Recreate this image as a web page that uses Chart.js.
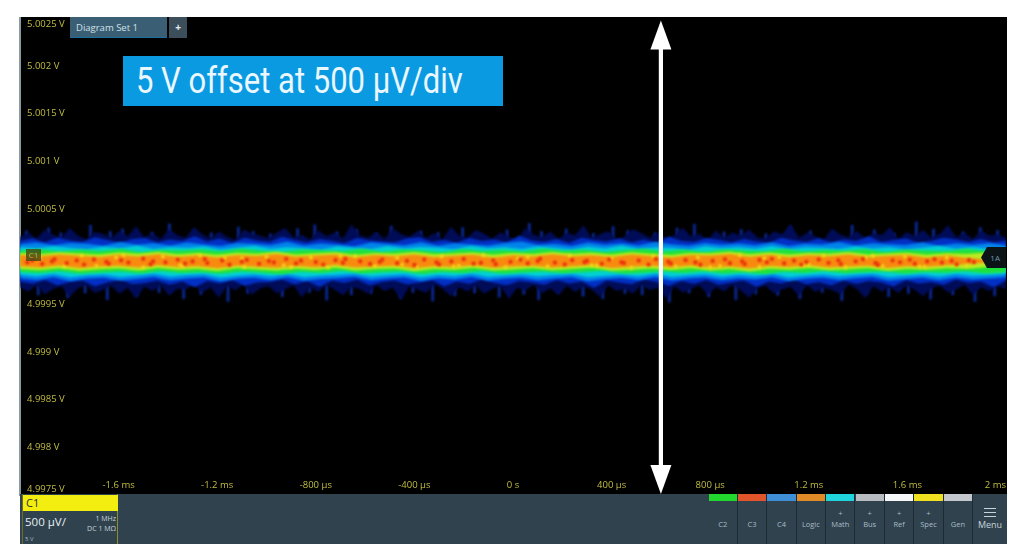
<!DOCTYPE html>
<html><head><meta charset="utf-8">
<script src="https://cdn.jsdelivr.net/npm/chart.js@4"></script>
<style>
html,body{margin:0;padding:0;background:#fff;overflow:hidden}
#wrap{position:relative;width:1024px;height:560px;filter:blur(0.6px);font-family:"Open Sans",sans-serif}
#scope{position:absolute;left:20px;top:17px;width:987px;height:477px;background:#000}
canvas{position:absolute;left:0;top:0}
.abs{position:absolute;white-space:nowrap}
#title{left:123px;top:56px;width:380px;height:50px;background:#0a9ae2;color:#eaf7ff;font:36px/50px Roboto,sans-serif;padding-left:13px;box-sizing:border-box}
#tt{display:inline-block;transform:scaleX(.861);transform-origin:0 50%}
#tab{left:70px;top:17px;width:97px;height:21px;background:#3a5f75;border-bottom:1px solid #1b6ea0;box-sizing:border-box;color:#d3e0e8;font-size:9.5px;line-height:21px;padding-left:6px}
#plus{left:169px;top:17px;width:18px;height:21px;background:#3c4e59;color:#e8eef2;font-size:10px;line-height:21px;text-align:center;font-weight:700}
#panel{left:20px;top:494px;width:987px;height:50px;background:#2f424e}
#c1{left:22px;top:494px;width:96px;height:50px;border-left:1.5px solid #6a6f2a;border-right:1.5px solid #8a8f2a;box-sizing:border-box}
#c1h{left:23px;top:495px;width:95px;height:16px;background:#f4ee10;color:#27323a;font-size:11px;line-height:16px;padding-left:3px;box-sizing:border-box}
.tile{position:absolute;top:494px;height:50px;background:#2f424e;color:#a9bcc7;font-size:7.5px;text-align:center;border-right:1px solid #1c2a33;box-sizing:border-box}
.tile i{display:block;height:7px}
.tile b{display:block;font-weight:400;height:12px;line-height:12px;margin-top:6px}
.tile span{display:block;line-height:10px}
#mk1{left:26px;top:249px;width:15px;height:12px;background:rgba(70,70,20,.8);color:#bdb84a;font-size:8px;line-height:12px;text-align:center}
#mk2{left:981px;top:247px;width:25px;height:21px;background:#0c1418;clip-path:polygon(0 50%,24% 0,100% 0,100% 100%,24% 100%);color:#6f9aa8;font-size:8px;line-height:21px;text-align:right;padding-right:6px;box-sizing:border-box}
</style></head><body>
<div id="wrap">
<div id="scope"></div>
<canvas id="c" width="1024" height="560"></canvas>
<div class="abs" id="title"><span id="tt">5 V offset at 500 µV/div</span></div>
<div class="abs" id="tab">Diagram Set 1</div>
<div class="abs" id="plus">+</div>
<div class="abs" id="mk1">C1</div>
<div class="abs" id="mk2">1A</div>
<div class="abs" id="panel"></div>
<div class="abs" id="c1"></div>
<div class="abs" id="c1h">C1</div>
<div class="abs" style="left:25px;top:514px;color:#e8eef2;font-size:11.5px;line-height:16px">500 µV/</div>
<div class="abs" style="left:70px;width:46px;top:514px;color:#c8d4db;font-size:7px;line-height:10px;text-align:right;white-space:normal">1 MHz<br>DC 1 MΩ</div>
<div class="abs" style="left:25px;top:535px;color:#a9bcc7;font-size:6px;line-height:8px">5 V</div>
<div id="tiles"></div>
</div>
<script>
// Axes (x in ms, y in volts)
const xMin=-2, xMax=2, yMin=4.9975, yMax=5.0025;
const xTickValues=[-2,-1.6,-1.2,-0.8,-0.4,0,0.4,0.8,1.2,1.6,2];
const xTickLabels=['','-1.6 ms','-1.2 ms','-800 µs','-400 µs','0 s','400 µs','800 µs','1.2 ms','1.6 ms','2 ms'];
const yTickValues=[4.9975,4.998,4.9985,4.999,4.9995,5,5.0005,5.001,5.0015,5.002,5.0025];
const yTickLabels=[['4.9975 V',''],'4.998 V','4.9985 V','4.999 V','4.9995 V','','5.0005 V','5.001 V','5.0015 V','5.002 V',['','5.0025 V']];
const arrowX=0.6;

// Persistence band boundaries, µV relative to 5 V
const band0Top=[210,250,190,280,230,200,300,220,180,260,
240,195,270,215,320,205,245,185,290,225,
200,310,235,190,265,210,175,285,240,220,
195,255,300,205,230,180,275,215,250,190,
340,225,200,260,185,295,235,210,270,195,
245,180,315,220,200,280,240,190,255,210,
175,300,230,205,265,185,250,225,330,195,
235,270,180,215,290,245,200,260,190,225,
305,210,240,175,275,195,255,220,285,205,
190,265,235,345,200,250,215,180,295,230,
205,270,190,245,225,310,185,260,215,280,
195,240,330,205,250,185,275,220,235,200];
const band0Bot=[-320,-365,-300,-395,-340,-310,-420,-330,-295,-380,
-350,-305,-390,-325,-440,-315,-360,-300,-410,-335,
-345,-295,-375,-320,-430,-305,-355,-290,-400,-330,
-310,-385,-345,-300,-425,-320,-370,-295,-350,-405,
-315,-340,-390,-300,-360,-325,-455,-310,-345,-380,
-295,-335,-415,-320,-365,-300,-390,-340,-310,-440,
-325,-355,-295,-385,-330,-405,-305,-370,-315,-345,
-420,-300,-360,-335,-390,-295,-350,-325,-445,-310,
-375,-340,-300,-400,-320,-365,-295,-355,-430,-330,
-305,-385,-345,-315,-410,-300,-370,-325,-350,-395,
-295,-340,-435,-310,-365,-320,-380,-300,-350,-415,
-330,-305,-375,-345,-295,-400,-320,-360,-310,-340];
const band1Top=[165,190,150,200,170,155,205,175,145,185,
195,150,180,165,215,160,190,145,200,170,
155,210,175,150,185,165,140,195,170,160,
150,190,205,155,175,145,195,165,180,150,
220,170,155,185,145,200,175,160,190,150,
180,145,210,165,155,195,175,150,185,160,
145,200,170,155,190,150,180,165,215,155,
175,190,145,165,200,180,155,185,150,170];
const band1Bot=[-260,-285,-245,-300,-265,-250,-310,-270,-240,-290,
-275,-250,-295,-260,-320,-255,-280,-245,-305,-270,
-265,-240,-290,-255,-315,-250,-275,-240,-300,-265,
-250,-290,-270,-245,-310,-260,-285,-240,-275,-300,
-255,-270,-295,-245,-280,-260,-325,-250,-270,-290,
-240,-265,-305,-255,-285,-245,-295,-270,-250,-315,
-260,-280,-240,-290,-265,-300,-250,-285,-255,-270,
-310,-245,-280,-265,-295,-240,-275,-260,-320,-250];
const band2Top=[130,150,120,145,135,115,155,125,140,118,
150,128,112,145,135,122,158,118,138,125,
110,148,132,120,152,115,140,128,118,145,
160,122,135,112,150,126,140,118,155,130,
115,145,125,138,120,150,112,135,128,155,
118,142,130,122,150,115,138,125,145,120];
const band2Bot=[-225,-245,-215,-255,-230,-220,-250,-235,-212,-248,
-228,-218,-258,-232,-222,-245,-215,-252,-235,-225,
-210,-248,-230,-218,-255,-226,-240,-214,-250,-232,
-220,-246,-228,-216,-258,-235,-222,-244,-212,-250,
-230,-218,-248,-225,-240,-215,-255,-232,-220,-245,
-226,-212,-252,-235,-222,-248,-218,-240,-228,-215];
const band3Top=[100,85,110,92,78,105,88,115,82,98,
90,108,76,95,112,84,100,88,74,106,
92,80,110,86,102,94,78,112,88,98,
82,108,90,76,104,86,114,80,96,90,
74,106,88,100,84,110,78,96,92,82,
108,86,100,76,94,112,84,98,80,90];
const band3Bot=[-190,-205,-182,-215,-195,-186,-210,-198,-180,-208,
-192,-184,-218,-200,-188,-206,-182,-212,-196,-190,
-178,-208,-194,-184,-216,-192,-202,-180,-210,-198,
-186,-206,-192,-182,-214,-200,-188,-204,-178,-210,
-194,-184,-208,-190,-202,-180,-216,-196,-186,-206,
-190,-178,-212,-198,-188,-208,-182,-200,-192,-180];
const band4Top=[66,78,54,72,60,82,50,70,64,76,
56,84,62,48,74,68,58,80,52,72,
66,46,78,60,70,54,84,62,74,50,
68,80,56,72,48,76,64,58,82,54,
70,62,78,50,74,66,56,80,60,72];
const band4Bot=[-160,-172,-152,-180,-165,-156,-176,-150,-170,-162,
-178,-154,-168,-184,-158,-172,-148,-176,-164,-156,
-182,-160,-170,-150,-178,-166,-154,-174,-160,-148,
-180,-168,-156,-172,-152,-176,-162,-184,-158,-170,
-150,-174,-164,-156,-180,-160,-168,-152,-176,-162];
const band5Top=[40,28,46,34,22,44,30,50,26,38,
20,42,32,52,24,36,46,18,40,30,
48,26,34,44,20,38,28,50,32,42,
24,46,30,18,40,36,52,26,44,22,
38,30,48,24,34,42,20,36,28,44];
const band5Bot=[-128,-140,-120,-148,-132,-124,-144,-118,-136,-128,
-150,-122,-134,-146,-126,-140,-116,-144,-130,-124,
-152,-128,-138,-118,-146,-134,-122,-142,-128,-116,
-148,-136,-124,-140,-120,-144,-130,-154,-126,-138,
-118,-142,-132,-122,-148,-128,-136,-120,-130,-110];
const band6Top=[18,6,24,10,-4,20,2,26,-2,14,
-8,16,8,28,0,12,22,-6,18,4,
24,-4,10,20,-10,14,2,26,6,16,
-2,22,8,-8,18,12,28,0,20,-6,
14,4,24,-2,10,18,-10,12,-14,-30];
const band6Bot=[-100,-112,-92,-118,-104,-96,-114,-90,-108,-100,
-120,-94,-106,-116,-98,-110,-88,-114,-102,-96,
-122,-100,-108,-90,-116,-104,-94,-112,-100,-88,
-118,-106,-96,-110,-92,-114,-102,-124,-98,-108,
-90,-112,-104,-94,-118,-100,-106,-90,-80,-60];
// Thin noise spikes beyond the band (x in ms, reach in µV)
const spikeUpX=[-1.97,-1.88,-1.83,-1.71,-1.63,-1.58,-1.46,-1.39,-1.29,-1.22,-1.11,-1.05,-0.98,-0.87,-0.8,-0.71,-0.63,-0.55,-0.49,-0.37,-0.3,-0.2,-0.13,-0.02,0.07,0.12,0.22,0.33,0.41,0.47,0.58,0.67,0.74,0.86,0.93,1.03,1.13,1.21,1.3,1.38,1.47,1.55,1.64,1.71,1.83,1.9,1.97];
const spikeUpY=[270,300,250,330,265,290,255,345,280,250,310,265,240,295,335,260,285,245,320,270,255,305,240,280,350,265,290,245,315,275,250,300,340,260,285,240,310,270,255,330,280,245,365,290,260,305,275];
const spikeDownX=[-1.93,-1.81,-1.74,-1.65,-1.53,-1.44,-1.34,-1.27,-1.16,-1.08,-0.94,-0.83,-0.76,-0.66,-0.58,-0.46,-0.41,-0.33,-0.24,-0.16,-0.06,0.04,0.1,0.18,0.28,0.36,0.45,0.52,0.63,0.71,0.79,0.9,0.98,1.07,1.16,1.25,1.33,1.43,1.52,1.6,1.69,1.78,1.87,1.95];
const spikeDownY=[-400,-430,-380,-450,-410,-375,-440,-395,-470,-385,-420,-375,-455,-400,-385,-435,-375,-465,-410,-380,-425,-395,-450,-375,-415,-440,-385,-400,-475,-380,-420,-450,-390,-405,-440,-375,-460,-395,-420,-385,-445,-400,-470,-410];
// Hot spots of the persistence display (x in ms, y in µV relative to 5 V)
const hotX=[-1.97,-1.95,-1.91,-1.87,-1.86,-1.81,-1.77,-1.74,-1.7,-1.65,-1.64,-1.59,-1.56,-1.5,-1.47,-1.46,-1.41,-1.36,-1.33,-1.3,-1.25,-1.24,-1.18,-1.15,-1.1,-1.08,-1.03,-0.99,-0.97,-0.92,-0.88,-0.86,-0.8,-0.77,-0.72,-0.69,-0.68,-0.62,-0.58,-0.54,-0.53,-0.47,-0.43,-0.4,-0.36,-0.31,-0.3,-0.25,-0.2,-0.16,
-0.13,-0.08,-0.07,-0.01,0.03,0.06,0.1,0.11,0.17,0.21,0.24,0.29,0.3,0.36,0.39,0.44,0.45,0.51,0.55,0.58,0.63,0.64,0.7,0.74,0.76,0.81,0.86,0.88,0.93,0.94,1.0,1.03,1.05,1.1,1.14,1.17,1.19,1.24,1.28,1.32,1.33,1.39,1.42,1.47,1.48,1.54,1.57,1.61,1.63,1.68,1.71,1.74,1.78,1.8,1.85,1.87];
const hotY=[-60,-38,-75,-48,-28,-66,-40,-82,-30,-55,-72,-38,-62,-22,-78,-50,-58,-32,-72,-50,
-28,-66,-40,-84,-52,-34,-74,-46,-60,-24,-70,-42,-56,-82,-36,-64,-26,-48,-76,-54,-30,-68,-44,-86,-30,-60,-80,-50,-26,-72,
-64,-40,-78,-54,-32,-70,-46,-22,-62,-80,-36,-56,-44,-74,-30,-58,-66,-40,-82,-26,-52,-72,-36,-60,-84,-44,-28,-68,-50,-76,-34,-58,-24,-70,-42,-82,-54,-30,-64,-38,-76,-48,-26,-66,-84,-40,-58,-32,-72,-50,-28,-62,-44,-80,-36,-56];
const warmX=[-1.92,-1.82,-1.75,-1.69,-1.61,-1.5,-1.42,-1.34,-1.27,-1.17,-1.09,-1.0,-0.93,-0.82,-0.75,-0.64,-0.56,-0.47,-0.39,-0.29,-0.22,-0.12,-0.03,0.06,0.14,0.23,0.32,0.4,0.48,0.57,0.66,0.75,0.84,0.92,1.0,1.08,1.18,1.26,1.35,1.43,1.5,1.59,1.67,1.76,1.84,-1.58,-1.35,-1.1,-0.9,-0.7,-0.45,-0.24,0.02,0.34,0.6,0.8,1.02,1.2,1.46,1.65];
const warmY=[-4,-104,12,-96,-8,-112,2,-100,14,-10,-108,0,-92,-6,-114,8,-98,-12,-106,4,-94,16,-110,-2,-100,10,-90,-14,-116,6,-102,-8,-96,18,-108,-4,-92,12,-112,-10,-98,2,-106,-6,-94,16,-88,-18,-110,8,-84,-102,-16,-92,6,-110,-14,-86,10,-104];

const bandColors=['#000c58','#0230c4','#0084ea','#00d2d2','#1ee23c','#bcea20','#f98a10'];
const bandTops=[band0Top,band1Top,band2Top,band3Top,band4Top,band5Top,band6Top];
const bandBots=[band0Bot,band1Bot,band2Bot,band3Bot,band4Bot,band5Bot,band6Bot];
const bandEnds=[2,2,2,2,2,1.92,1.92];

const volts=u=>5+u*1e-6;
const series=(vals,end)=>vals.map((u,i)=>({x:xMin+(end-xMin)*i/(vals.length-1),y:volts(u)}));
const datasets=[];
datasets.push({type:'scatter',data:hotX.map((x,i)=>({x,y:volts(hotY[i])})),pointRadius:2.1,pointBackgroundColor:'#e82a0c',pointBorderWidth:0,showLine:false,order:0});
datasets.push({type:'scatter',data:warmX.map((x,i)=>({x,y:volts(warmY[i])})),pointRadius:1.9,pointBackgroundColor:'#f2d818',pointBorderWidth:0,showLine:false,order:1});
for(let k=bandTops.length-1;k>=0;k--){
  const idx=datasets.length;
  const order=10+(bandTops.length-k)*2;
  datasets.push({data:series(bandTops[k],bandEnds[k]),borderWidth:0,pointRadius:0,tension:0,backgroundColor:bandColors[k],fill:{target:idx+1},order});
  datasets.push({data:series(bandBots[k],bandEnds[k]),borderWidth:0,pointRadius:0,tension:0,fill:false,order:order+1});
}
datasets.push({type:'bar',data:spikeUpX.map((x,i)=>({x,y:[volts(150),volts(spikeUpY[i])]})),backgroundColor:'#0a2aa0',barThickness:2,order:40});
datasets.push({type:'bar',data:spikeDownX.map((x,i)=>({x,y:[volts(spikeDownY[i]),volts(-280)]})),backgroundColor:'#0a2aa0',barThickness:2,order:41});

const softPlugin={id:'soft',
  beforeDatasetsDraw(ch){ch.ctx.save();ch.ctx.filter='blur(1.1px)'},
  afterDatasetsDraw(ch){ch.ctx.restore()}};
const arrowPlugin={id:'arrow',afterDatasetsDraw(ch){
  const c=ch.ctx,x=ch.scales.x.getPixelForValue(arrowX),t=ch.scales.y.getPixelForValue(yMax)+2,b=ch.scales.y.getPixelForValue(yMin)-1;
  c.save();c.fillStyle='#fff';
  c.fillRect(x-2.1,t+25,4.2,b-t-50);
  c.beginPath();c.moveTo(x,t);c.lineTo(x+10.5,t+29);c.lineTo(x-10.5,t+29);c.closePath();c.fill();
  c.beginPath();c.moveTo(x,b);c.lineTo(x+10.5,b-29);c.lineTo(x-10.5,b-29);c.closePath();c.fill();
  c.restore();
}};
const tickFont={family:'"Open Sans"',size:9.5};
new Chart(document.getElementById('c'),{
  type:'line',
  data:{datasets},
  plugins:[softPlugin,arrowPlugin],
  options:{
    responsive:false,animation:false,devicePixelRatio:1,
    layout:{padding:{left:20,right:18,top:15,bottom:65}},
    plugins:{legend:{display:false},tooltip:{enabled:false}},
    scales:{
      x:{type:'linear',min:xMin,max:xMax,offset:false,
        grid:{offset:false,drawOnChartArea:false,drawTicks:false},
        border:{display:true,color:'#8a9aa3',width:2,dash:[1,3]},
        afterFit(s){s.height=0},
        afterBuildTicks(s){s.ticks=xTickValues.map(value=>({value}))},
        ticks:{mirror:true,padding:4,align:'inner',autoSkip:false,maxRotation:0,color:'#c2be42',font:tickFont,
          callback:(v,i)=>xTickLabels[i]}},
      y:{type:'linear',min:yMin,max:yMax,
        grid:{drawOnChartArea:false,drawTicks:false},
        border:{display:true,color:'#8a9aa3',width:2,dash:[1,2]},
        afterFit(s){s.width=0},
        afterBuildTicks(s){s.ticks=yTickValues.map(value=>({value}))},
        ticks:{mirror:true,padding:7,autoSkip:false,color:'#c2be42',font:tickFont,
          callback:(v,i)=>yTickLabels[i]}}
    }
  }
});
// Channel tiles in the bottom bar
const tileNames=['C2','C3','C4','Logic','Math','Bus','Ref','Spec','Gen'];
const tilePlus=[false,false,false,false,true,true,true,true,false];
const tileColors=['#22d82e','#e0562a','#3f8ed8','#e08a28','#1fd4dc','#b8bcc0','#f4f6f8','#f0e020','#c4c8cc'];
const holder=document.getElementById('tiles');
tileNames.forEach((n,i)=>{
  const d=document.createElement('div');d.className='tile';
  d.style.left=(708.5+i*29.4)+'px';d.style.width='29.4px';
  d.innerHTML='<i style="background:'+tileColors[i]+'"></i><b>'+(tilePlus[i]?'+':'')+'</b><span>'+n+'</span>';
  holder.appendChild(d);
});
const m=document.createElement('div');m.className='abs';
m.style.cssText='left:973px;top:508px;width:34px;text-align:center;color:#c8d4db;font-size:9px;line-height:10px';
m.innerHTML='<div style="width:12px;height:7px;margin:0 auto 3px;border-top:1.5px solid #c8d4db;border-bottom:1.5px solid #c8d4db;position:relative"><div style="position:absolute;left:0;right:0;top:2.5px;height:1.5px;background:#c8d4db"></div></div>Menu';
document.getElementById('wrap').appendChild(m);
</script>
</body></html>
